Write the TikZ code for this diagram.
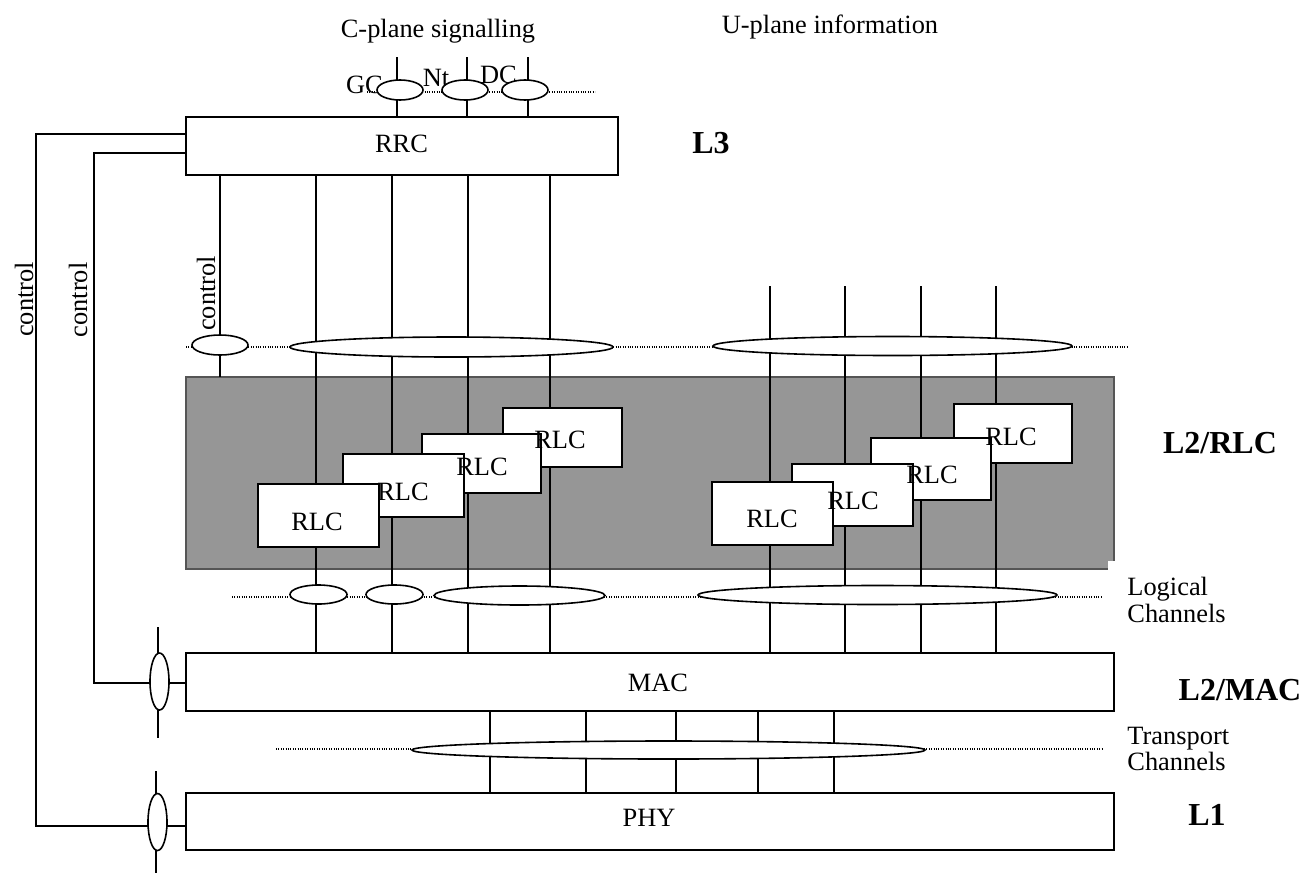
\documentclass[tikz,border=0pt]{standalone}
\usepackage{fontspec}
\setmainfont{Liberation Serif}
\usetikzlibrary{shapes.geometric}
\definecolor{rlcgrey}{RGB}{150,150,150}
\definecolor{rlcedge}{RGB}{85,85,85}
\begin{document}
\begin{tikzpicture}[x=0.5pt,y=-0.5pt,
  ln/.style={line width=0.75pt},
  dots/.style={line width=0.6pt, dash pattern=on 0.45pt off 0.75pt},
  layerbox/.style={draw, line width=0.8pt, fill=white, inner sep=0pt, outer sep=0pt},
  rlcbox/.style={layerbox},
  chan/.style={ellipse, draw, line width=0.8pt, fill=white, inner sep=0pt, outer sep=0pt},
  txt/.style={font=\fontsize{13.2}{15}\selectfont, inner sep=0pt, anchor=base},
  twoline/.style={font=\fontsize{13.2}{11.5}\selectfont, inner sep=0pt, anchor=base west, align=left},
  lbl/.style={font=\fontsize{16}{19}\selectfont\bfseries, inner sep=0pt, anchor=base},
]
\useasboundingbox[fill=white] (0,0) rectangle (1316,873);

% grey RLC area
\node[fill=rlcgrey, draw=rlcedge, line width=0.8pt, inner sep=0pt, outer sep=0pt,
      minimum width=464pt, minimum height=96pt] (rlcarea) at (650,473) {};
\fill[white] (1107.6,560.6) rectangle (1117,572);

% layer boxes
\node[layerbox, minimum width=216pt, minimum height=29pt] (RRC) at (402,146) {};
\node[layerbox, minimum width=464pt, minimum height=29pt] (MAC) at (650,682) {};
\node[layerbox, minimum width=464pt, minimum height=28.5pt] (PHY) at (650,821.5) {};

% coordinates
\coordinate (c1) at (316,0); \coordinate (c2) at (392,0);
\coordinate (c3) at (468,0); \coordinate (c4) at (550,0);
\coordinate (k) at (220,0);
\coordinate (u1) at (770,286); \coordinate (u2) at (845,286);
\coordinate (u3) at (921,286); \coordinate (u4) at (996,286);
\coordinate (t1) at (490,0); \coordinate (t2) at (586,0); \coordinate (t3) at (676,0);
\coordinate (t4) at (758,0); \coordinate (t5) at (834,0);
\coordinate (g1) at (397,57); \coordinate (g2) at (467,57); \coordinate (g3) at (528,57);
\coordinate (i1) at (94,153); \coordinate (i2) at (94,683);
\coordinate (o1) at (36,134); \coordinate (o2) at (36,826);
\coordinate (mv1) at (158,627); \coordinate (mv2) at (158,738);
\coordinate (pv1) at (156,771); \coordinate (pv2) at (156,873);
\coordinate (dA1) at (367,92);  \coordinate (dA2) at (595,92);
\coordinate (dB1) at (186,347); \coordinate (dB2) at (1128,347);
\coordinate (dC1) at (232,597); \coordinate (dC2) at (1102,597);
\coordinate (dD1) at (276,749); \coordinate (dD2) at (1103,749);

% dotted channel lines
\draw[dots] (dA1) -- (dA2);
\draw[dots] (dB1) -- (dB2);
\draw[dots] (dC1) -- (dC2);
\draw[dots] (dD1) -- (dD2);

% vertical channel lines
\foreach \c in {c1,c2,c3,c4} \draw[ln] (RRC.south -| \c) -- (MAC.north -| \c);
\draw[ln] (RRC.south -| k) -- (rlcarea.north -| k);
\foreach \c in {u1,u2,u3,u4} \draw[ln] (\c) -- (MAC.north -| \c);
\foreach \c in {t1,t2,t3,t4,t5} \draw[ln] (MAC.south -| \c) -- (PHY.north -| \c);
\foreach \c in {g1,g2,g3} \draw[ln] (\c) -- (RRC.north -| \c);

% control lines
\draw[ln] (RRC.west |- i1) -- (i1) -- (i2) -- (MAC.west |- i2);
\draw[ln] (RRC.west |- o1) -- (o1) -- (o2) -- (PHY.west |- o2);
\draw[ln] (mv1) -- (mv2);
\draw[ln] (pv1) -- (pv2);

% texts beneath the top ellipses
\node[txt] (GC) at (364.5,93) {GC};
\node[txt] (Nt) at (436,86) {Nt};
\node[txt] (DC) at (498.5,83) {DC};

% channel ellipses
\node[chan, minimum width=23pt, minimum height=10pt] (eGC) at (400,90) {};
\node[chan, minimum width=23pt, minimum height=10pt] (eNt) at (465,90) {};
\node[chan, minimum width=23pt, minimum height=10pt] (eDC) at (525,90) {};
\node[chan, minimum width=28pt, minimum height=10pt] (eCtl) at (220,345) {};
\node[chan, minimum width=161.5pt, minimum height=10pt] (eUL) at (451.5,347) {};
\node[chan, minimum width=179.5pt, minimum height=9.5pt] (eUR) at (892.5,346) {};
\node[chan, minimum width=28.5pt, minimum height=9.5pt] (eL1) at (318.5,594.5) {};
\node[chan, minimum width=28.5pt, minimum height=9.5pt] (eL2) at (394.5,594.5) {};
\node[chan, minimum width=85.5pt, minimum height=9.5pt] (eL3) at (519.5,595.5) {};
\node[chan, minimum width=179.5pt, minimum height=9.5pt] (eL4) at (877.5,595) {};
\node[chan, minimum width=256.5pt, minimum height=9pt] (eT) at (668.5,750) {};
\node[chan, minimum width=9.5pt, minimum height=28.5pt] (eMac) at (159.5,681.5) {};
\node[chan, minimum width=9.5pt, minimum height=28.5pt] (ePhy) at (157.5,822) {};

% RLC boxes, back to front
\node[rlcbox, minimum width=59.5pt, minimum height=29.5pt] (ld) at (562.5,437.5) {};
\node[rlcbox, minimum width=59.5pt, minimum height=29.5pt] (lc) at (481.5,463.5) {};
\node[rlcbox, minimum width=60.5pt, minimum height=31.5pt] (lb) at (403.5,485.5) {};
\node[rlcbox, minimum width=60.5pt, minimum height=31.5pt] (la) at (318.5,515.5) {};
\node[rlcbox, minimum width=59pt, minimum height=29.5pt] (rd) at (1013,433.5) {};
\node[rlcbox, minimum width=60pt, minimum height=31pt] (rc) at (931,469) {};
\node[rlcbox, minimum width=60.5pt, minimum height=31pt] (rb) at (852.5,495) {};
\node[rlcbox, minimum width=60.5pt, minimum height=31.5pt] (ra) at (772.5,513.5) {};

% RLC texts
\node[txt] (ldT) at (560,448) {RLC};
\node[txt] (lcT) at (482,475) {RLC};
\node[txt] (lbT) at (403,500) {RLC};
\node[txt] (laT) at (317,530) {RLC};
\node[txt] (rdT) at (1011,445) {RLC};
\node[txt] (rcT) at (932,483) {RLC};
\node[txt] (rbT) at (853,509) {RLC};
\node[txt] (raT) at (772,527) {RLC};

% layer box texts
\node[txt] (RRCT) at (401.5,152) {RRC};
\node[txt] (MACT) at (658,691) {MAC};
\node[txt] (PHYT) at (649,826) {PHY};

% other texts
\node[txt] (cps) at (438,37) {C-plane signalling};
\node[txt] (upi) at (830,33) {U-plane information};
\node[txt, rotate=90] (ctl1) at (33,299.5) {control};
\node[txt, rotate=90] (ctl2) at (87,300) {control};
\node[txt, rotate=90] (ctl3) at (215,293.5) {control};
\node[twoline] (logch) at (1127,622) {Logical\\Channels};
\node[twoline] (trch) at (1127,770) {Transport\\Channels};
\node[lbl] (L3) at (711,153) {L3};
\node[lbl] (L2R) at (1220,453) {L2/RLC};
\node[lbl] (L2M) at (1240,700) {L2/MAC};
\node[lbl] (L1) at (1207,825) {L1};
\end{tikzpicture}
\end{document}
